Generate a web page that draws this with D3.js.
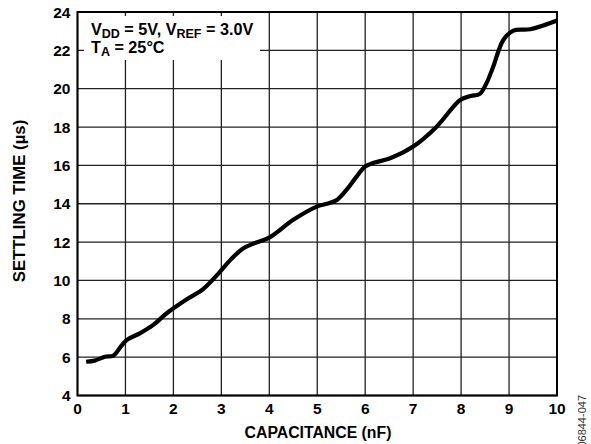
<!DOCTYPE html>
<html>
<head>
<meta charset="utf-8">
<script src="https://cdn.jsdelivr.net/npm/d3@7"></script>
<style>
  html, body { margin: 0; padding: 0; background: #fff; }
  svg { display: block; font-family: "Liberation Sans", Arial, sans-serif; }
</style>
</head>
<body>
<svg id="chart" width="591" height="444"></svg>
<script>
const capacitance = [0.18, 0.36, 0.57, 0.75, 0.89, 1.03, 1.30, 1.58, 1.86, 2.28, 2.62, 2.97, 3.2, 3.46, 3.7, 4.01, 4.5, 4.99, 5.2, 5.41, 5.61, 5.8, 6.0, 6.2, 6.52, 7.0, 7.49, 7.98, 8.2, 8.39, 8.53, 8.67, 8.88, 9.09, 9.44, 10.0];
const settling = [5.76, 5.82, 6.02, 6.08, 6.51, 6.90, 7.24, 7.68, 8.29, 9.02, 9.55, 10.45, 11.1, 11.68, 11.95, 12.25, 13.16, 13.85, 14.0, 14.20, 14.72, 15.35, 15.94, 16.15, 16.37, 16.98, 18.02, 19.41, 19.62, 19.73, 20.29, 21.15, 22.54, 23.03, 23.10, 23.56];
const xTicks = [0, 1, 2, 3, 4, 5, 6, 7, 8, 9, 10];
const yTicks = [4, 6, 8, 10, 12, 14, 16, 18, 20, 22, 24];

const svg = d3.select("#chart");
const pLeft = 77.5, pRight = 557, pTop = 12, pBottom = 395.5;
const x = d3.scaleLinear().domain([0, 10]).range([pLeft, pRight]);
const y = d3.scaleLinear().domain([4, 24]).range([pBottom, pTop]);

// grid
const g = svg.append("g");
g.selectAll("line.vx").data(xTicks).join("line")
  .attr("x1", d => x(d)).attr("x2", d => x(d))
  .attr("y1", pTop).attr("y2", pBottom)
  .attr("stroke", "#222").attr("stroke-width", 1.3);
g.selectAll("line.hy").data(yTicks).join("line")
  .attr("x1", pLeft).attr("x2", pRight)
  .attr("y1", d => y(d)).attr("y2", d => y(d))
  .attr("stroke", "#222").attr("stroke-width", 1.3);

// legend box masking grid
svg.append("rect").attr("x", 84).attr("y", 16).attr("width", 176).attr("height", 44).attr("fill", "#fff");

// frame
svg.append("rect").attr("x", pLeft).attr("y", pTop).attr("width", pRight - pLeft).attr("height", pBottom - pTop)
  .attr("fill", "none").attr("stroke", "#000").attr("stroke-width", 2);

// curve
const pts = capacitance.map((c, i) => [c, settling[i]]);
svg.append("path").datum(pts)
  .attr("d", d3.line().x(d => x(d[0])).y(d => y(d[1])).curve(d3.curveCatmullRom.alpha(0.5)))
  .attr("fill", "none").attr("stroke", "#000").attr("stroke-width", 4.2)
  .attr("stroke-linejoin", "round").attr("stroke-linecap", "butt");

// tick labels
svg.selectAll("text.xt").data(xTicks).join("text")
  .attr("x", d => x(d)).attr("y", 413.5)
  .attr("text-anchor", "middle").attr("font-size", 15.5).attr("font-weight", "bold")
  .text(d => d);
svg.selectAll("text.yt").data(yTicks).join("text")
  .attr("x", 70.5).attr("y", d => y(d) + 5.5)
  .attr("text-anchor", "end").attr("font-size", 15.5).attr("font-weight", "bold")
  .text(d => d);

// axis titles
svg.append("text").attr("x", 318).attr("y", 437.5)
  .attr("text-anchor", "middle").attr("font-size", 15.8).attr("font-weight", "bold")
  .text("CAPACITANCE (nF)");
svg.append("text").attr("transform", "translate(24.5,201) rotate(-90)")
  .attr("text-anchor", "middle").attr("font-size", 16.8).attr("font-weight", "bold")
  .text("SETTLING TIME (µs)");

// legend text
const l1 = svg.append("text").attr("x", 91).attr("y", 34.5).attr("font-size", 16.2).attr("font-weight", "bold");
l1.append("tspan").text("V");
l1.append("tspan").attr("dy", 3).attr("font-size", 12.5).text("DD");
l1.append("tspan").attr("dy", -3).text(" = 5V, V");
l1.append("tspan").attr("dy", 3).attr("font-size", 12.5).text("REF");
l1.append("tspan").attr("dy", -3).text(" = 3.0V");
const l2 = svg.append("text").attr("x", 91).attr("y", 53).attr("font-size", 16.2).attr("font-weight", "bold");
l2.append("tspan").text("T");
l2.append("tspan").attr("dy", 3).attr("font-size", 12.5).text("A");
l2.append("tspan").attr("dy", -3).text(" = 25°C");

// figure id
svg.append("text").attr("transform", "translate(585.5,395) rotate(-90)")
  .attr("text-anchor", "end").attr("font-size", 11).attr("fill", "#333")
  .text("06844-047");
</script>
</body>
</html>
